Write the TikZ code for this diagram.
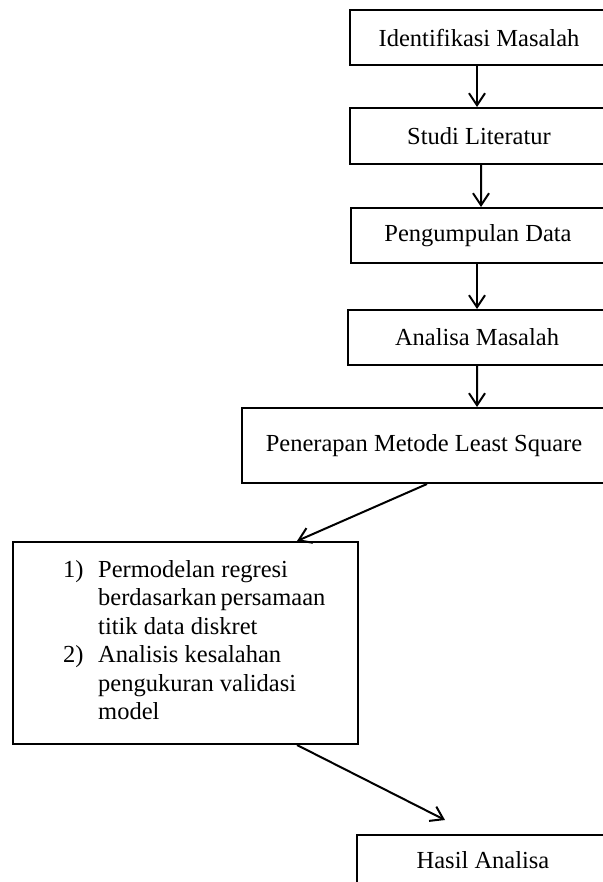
\documentclass[tikz,border=0pt]{standalone}
\usepackage{fontspec}
\setmainfont{Liberation Serif}
\usetikzlibrary{arrows.meta}
\begin{document}
\begin{tikzpicture}[x=1bp,y=-1bp,
  box/.style={draw,line width=2bp,rectangle,inner sep=0pt,font=\fontsize{24.5bp}{28.5bp}\selectfont},
  txt/.style={inner sep=0pt,font=\fontsize{24.5bp}{28.5bp}\selectfont},
  arr/.style={line width=2bp,-{Straight Barb[length=12bp,width=16bp,line width=2bp]}}]
\clip (0,0) rectangle (603,882);
\node[box,minimum width=258bp,minimum height=55bp] (b1) at (479,37.5) {Identifikasi Masalah};
\node[box,minimum width=258bp,minimum height=56bp] (b2) at (479,136) {Studi Literatur};
\node[box,minimum width=254bp,minimum height=55bp] (b3) at (478,235.5) {Pengumpulan Data};
\node[box,minimum width=258bp,minimum height=55bp] (b4) at (477,337.5) {Analisa Masalah};
\node[box,minimum width=364bp,minimum height=75bp] (b5) at (424,445.5) {Penerapan Metode Least Square};
\node[box,minimum width=345bp,minimum height=202bp] (b6) at (185.5,643) {};
\node[txt,anchor=north west] (b6txt) at (63,557) {\begin{tabular}{@{}p{35bp}@{}l@{}}
1) & Permodelan regresi\\
   & berdasarkan\,persamaan\\
   & titik data diskret\\
2) & Analisis kesalahan\\
   & pengukuran validasi\\
   & model
\end{tabular}};
\node[box,minimum width=252bp,minimum height=50bp] (b7) at (483,860) {Hasil Analisa};
\coordinate (e6) at (445,820);
\draw[arr] ([xshift=-2bp]b1.south) -- ([xshift=-2bp]b2.north);
\draw[arr] ([xshift=2bp]b2.south) -- ([xshift=3bp]b3.north);
\draw[arr] ([xshift=-1bp]b3.south) -- (b4.north);
\draw[arr] (b4.south) -- ([xshift=53bp]b5.north);
\draw[arr] ([xshift=3bp]b5.south) -- ([xshift=111.5bp]b6.north);
\draw[arr] ([xshift=111.5bp]b6.south) -- (e6);
\end{tikzpicture}
\end{document}
